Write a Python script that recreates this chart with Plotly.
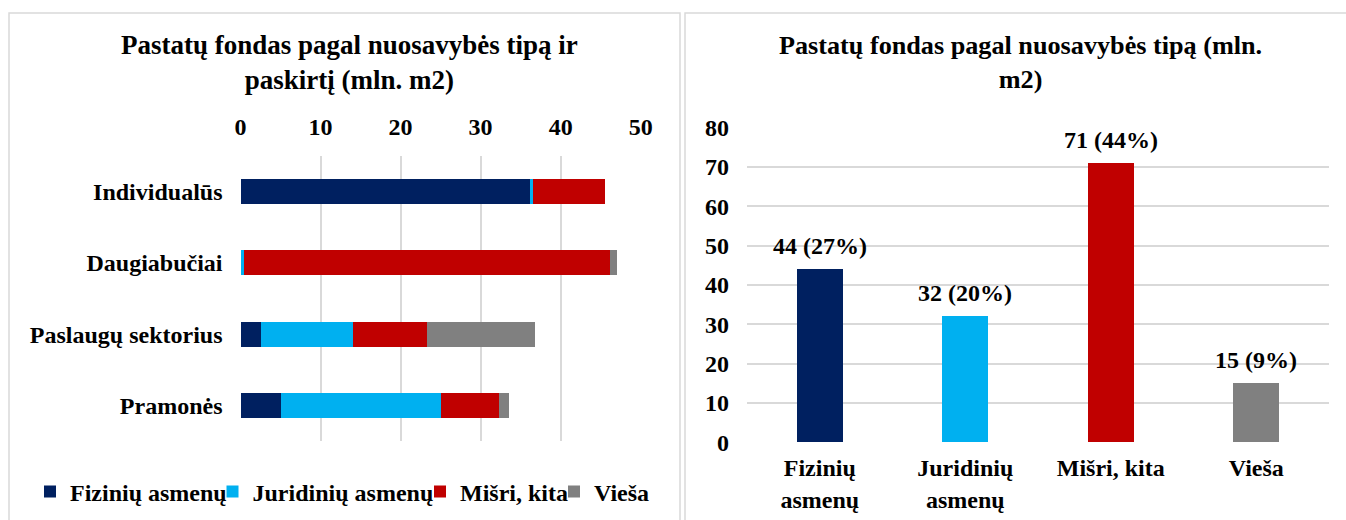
import plotly.graph_objects as go

# page is 1346x520; the body margin is removed after plotting,
# so the figure fills the page exactly
PAGE_W, PAGE_H = 1346, 520
OX, OY = 0, 0
FW, FH = PAGE_W - 2 * OX, PAGE_H - 2 * OY
FONT = "Liberation Serif"

# ---- data (left chart: stacked horizontal bars, mln. m2) ----
left_categories = ["Individualūs", "Daugiabučiai", "Paslaugų sektorius", "Pramonės"]
series_names = ["Fizinių asmenų", "Juridinių asmenų", "Mišri, kita", "Vieša"]
fiziniu = [36.2, 0.1, 2.6, 5.1]
juridiniu = [0.3, 0.3, 11.4, 19.9]
misri = [9.0, 45.8, 9.3, 7.3]
viesa = [0.0, 0.8, 13.5, 1.2]
left_x_ticks = [0, 10, 20, 30, 40, 50]

# ---- data (right chart: totals by ownership type) ----
right_categories = ["Fizinių<br>asmenų", "Juridinių<br>asmenų", "Mišri, kita", "Vieša"]
right_values = [44, 32, 71, 15]
right_pcts = [27, 20, 44, 9]
right_y_ticks = [0, 10, 20, 30, 40, 50, 60, 70, 80]

colors = ["#002060", "#00B0F0", "#C00000", "#808080"]
GRID = "#d9d9d9"


def px_x(p):
    return (p - OX) / FW


def px_y(p):
    return 1 - (p - OY) / FH


def path(points):
    return "M " + " L ".join(f"{px_x(x):.5f},{px_y(y):.5f}" for x, y in points)


fig = go.Figure()

left_series = [fiziniu, juridiniu, misri, viesa]
legend_ids = ["legend", "legend2", "legend3", "legend4"]
for name, vals, col, lg in zip(series_names, left_series, colors, legend_ids):
    fig.add_trace(go.Bar(
        y=left_categories, x=vals, name=name, orientation="h",
        marker=dict(color=col, line=dict(width=0)),
        width=0.35, xaxis="x", yaxis="y", legend=lg,
        hoverinfo="x+y+name",
    ))

fig.add_trace(go.Bar(
    x=right_categories, y=right_values, marker=dict(color=colors, line=dict(width=0)),
    width=0.316, xaxis="x2", yaxis="y2", showlegend=False,
))

annotations = []
for c, v, p in zip(right_categories, right_values, right_pcts):
    annotations.append(dict(
        x=c, y=v, xref="x2", yref="y2", text=f"{v} ({p}%)", showarrow=False,
        yanchor="bottom", yshift=8, font=dict(size=24, color="black", family=FONT, weight="bold"),
    ))

annotations.append(dict(
    x=px_x(349.5), y=px_y(62.5), xref="paper", yref="paper",
    text="Pastatų fondas pagal nuosavybės tipą ir<br>paskirtį (mln. m2)",
    showarrow=False, xanchor="center", yanchor="middle",
    font=dict(size=27, color="black", family=FONT, weight="bold"),
))
annotations.append(dict(
    x=px_x(1020), y=px_y(62.5), xref="paper", yref="paper",
    text="Pastatų fondas pagal nuosavybės tipą (mln.<br>m2)",
    showarrow=False, xanchor="center", yanchor="middle",
    font=dict(size=26.2, color="black", family=FONT, weight="bold"),
))

shapes = [
    dict(type="path", xref="paper", yref="paper",
         path=path([(9, 530), (9, 13), (680, 13), (680, 530)]),
         line=dict(color=GRID, width=1.5), layer="below"),
    dict(type="path", xref="paper", yref="paper",
         path=path([(685, 530), (685, 13), (1350, 13)]),
         line=dict(color=GRID, width=1.5), layer="below"),
]

legend_text_starts = [69, 251.5, 459, 593]
legend_common = dict(
    xanchor="left", yanchor="middle", y=px_y(492), bgcolor="rgba(0,0,0,0)",
    font=dict(size=24, color="black", family=FONT, weight="bold"), borderwidth=0,
)
legends = {}
for lg, t in zip(legend_ids, legend_text_starts):
    d = dict(legend_common)
    d["x"] = px_x(t - 39)
    legends[lg] = d

tickfont = dict(size=24, color="black", family=FONT, weight="bold")

fig.update_layout(
    width=FW, height=FH, margin=dict(l=0, r=0, t=0, b=0, pad=0, autoexpand=False),
    paper_bgcolor="white", plot_bgcolor="white",
    font=dict(family=FONT, size=24, color="black", weight="bold"),
    barmode="stack",
    xaxis=dict(domain=[px_x(240.5), px_x(640.7)], range=[0, 50], side="top",
               tickvals=left_x_ticks, showgrid=True, gridcolor=GRID, gridwidth=1.7,
               zeroline=False, showline=False, ticks="", tickfont=tickfont,
               ticklabelstandoff=15, fixedrange=True, automargin=False),
    yaxis=dict(domain=[px_y(441), px_y(156)], type="category",
               categoryorder="array", categoryarray=left_categories, autorange="reversed",
               showgrid=False, zeroline=False, showline=False, ticks="", tickfont=tickfont,
               ticklabelstandoff=17, anchor="x", fixedrange=True, automargin=False),
    xaxis2=dict(domain=[px_x(747), px_x(1329)], type="category", anchor="y2",
                showgrid=False, zeroline=False, showline=False, ticks="", tickfont=tickfont,
                ticklabelstandoff=9, fixedrange=True, automargin=False),
    yaxis2=dict(domain=[px_y(442.3), px_y(127.7)], range=[0, 80], tickvals=right_y_ticks,
                anchor="x2", showgrid=True, gridcolor=GRID, gridwidth=1.7, zeroline=False,
                showline=False, ticks="", tickfont=tickfont, ticklabelstandoff=17, fixedrange=True,
                automargin=False),
    annotations=annotations,
    shapes=shapes,
    **legends,
)

fig.write_html(
    "out.html",
    config={"displayModeBar": False},
    post_script="document.body.style.margin='0';document.body.style.overflow='hidden';",
)
